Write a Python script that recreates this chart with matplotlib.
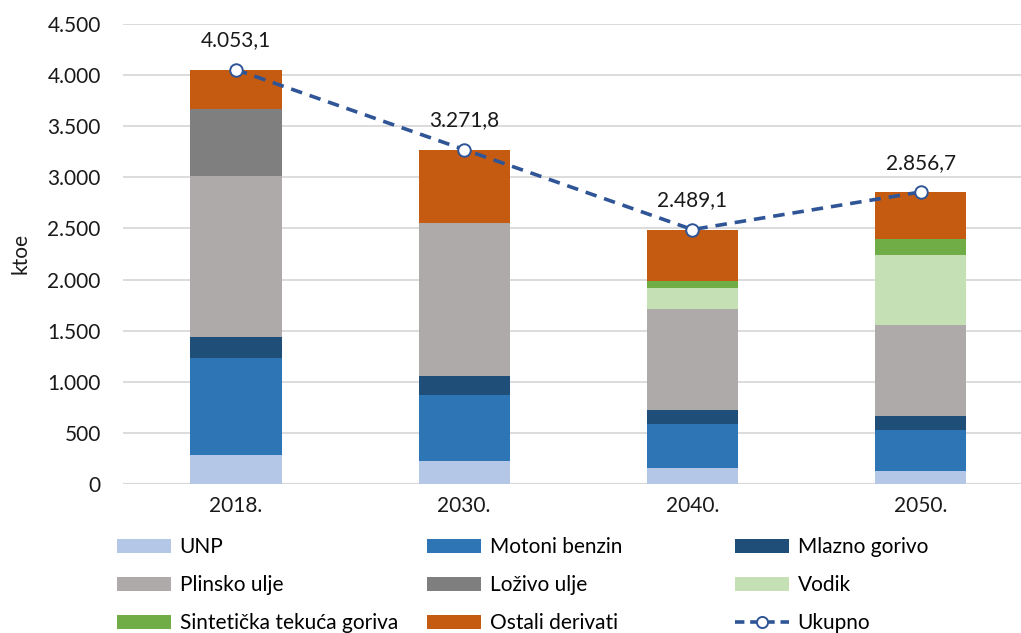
import numpy as np
import matplotlib
matplotlib.use("Agg")
import matplotlib.pyplot as plt
from matplotlib.patches import Patch
from matplotlib.lines import Line2D
from matplotlib.ticker import FuncFormatter

plt.rcParams['font.family'] = ['Lato', 'DejaVu Sans']

years = ['2018.', '2030.', '2040.', '2050.']
unp = [284, 228, 159, 127]
motoni = [952, 643, 428, 401]
mlazno = [199, 189, 134, 137]
plinsko = [1581, 1493, 991, 893]
lozivo = [653, 0, 0, 0]
vodik = [0, 0, 202, 682]
sinteticka = [0, 0, 72, 157]
ostali = [384.1, 718.8, 503.1, 459.7]
ukupno = [4053.1, 3271.8, 2489.1, 2856.7]

series = [
    ('UNP', unp, '#B4C7E7'),
    ('Motoni benzin', motoni, '#2E75B6'),
    ('Mlazno gorivo', mlazno, '#1F4E79'),
    ('Plinsko ulje', plinsko, '#AEAAAA'),
    ('Loživo ulje', lozivo, '#7F7F7F'),
    ('Vodik', vodik, '#C5E0B4'),
    ('Sintetička tekuća goriva', sinteticka, '#70AD47'),
    ('Ostali derivati', ostali, '#C55A11'),
]
line_color = '#2F5597'
fs = 15


def hr_format(v, decimals=0):
    s = f"{v:,.{decimals}f}"
    return s.replace(',', 'X').replace('.', ',').replace('X', '.')


fig = plt.figure(figsize=(10.21, 6.33), dpi=100)
ax = fig.add_axes([123 / 1021, 149 / 633, 898 / 1021, 460 / 633])

x = np.arange(len(years))
bottom = np.zeros(len(years))
for name, vals, color in series:
    vals = np.array(vals, dtype=float)
    ax.bar(x, vals, 0.4, bottom=bottom, color=color, label=name, zorder=2)
    bottom += vals

ax.plot(x, ukupno, linestyle=(0, (3.2, 2.2)), color=line_color, linewidth=2.6,
        marker='o', markersize=9, markerfacecolor='white',
        markeredgecolor=line_color, markeredgewidth=1.4, zorder=3)
for xi, v in zip(x, ukupno):
    ax.annotate(hr_format(v, 1), (xi, v), xytext=(0, 21), textcoords='offset points',
                ha='center', va='center', fontsize=fs, color='#1a1a1a')

ax.set_xlim(-0.495, 3.44)
ax.set_ylim(0, 4500)
ax.set_yticks(np.arange(0, 4501, 500))
ax.yaxis.set_major_formatter(FuncFormatter(lambda v, p: hr_format(v)))
ax.set_xticks(x)
ax.set_xticklabels(years)
ax.grid(axis='y', color='#d9d9d9', linewidth=1.3, zorder=0)
ax.set_axisbelow(True)
for s in ax.spines.values():
    s.set_visible(False)
ax.tick_params(axis='both', length=0, labelsize=fs, colors='#1a1a1a')
ax.tick_params(axis='y', pad=16)
ax.tick_params(axis='x', pad=9)
ax.set_ylabel('ktoe', fontsize=fs, color='#1a1a1a', labelpad=12)
ax.axhline(0, color='#d9d9d9', linewidth=1.6, zorder=1)

colors = {name: c for name, _, c in series}
columns = [
    ['UNP', 'Plinsko ulje', 'Sintetička tekuća goriva'],
    ['Motoni benzin', 'Loživo ulje', 'Ostali derivati'],
    ['Mlazno gorivo', 'Vodik', 'Ukupno'],
]
col_x = [117, 427, 735]
row_y = [547, 585, 623]
for cx, names in zip(col_x, columns):
    for ry, n in zip(row_y, names):
        if n == 'Ukupno':
            h = Line2D([0], [0], color=line_color, linestyle=(0, (2.6, 1.6)),
                       linewidth=2.6, marker='o', markersize=8,
                       markerfacecolor='white', markeredgecolor=line_color,
                       markeredgewidth=1.4)
        else:
            h = Patch(facecolor=colors[n])
        fig.legend([h], [n], loc='center left', bbox_to_anchor=(cx / 1021, 1 - ry / 633),
                   frameon=False, fontsize=fs, handlelength=2.6, handleheight=0.67,
                   handletextpad=0.4, borderaxespad=0, borderpad=0)

fig.savefig('out.png', dpi=100)
